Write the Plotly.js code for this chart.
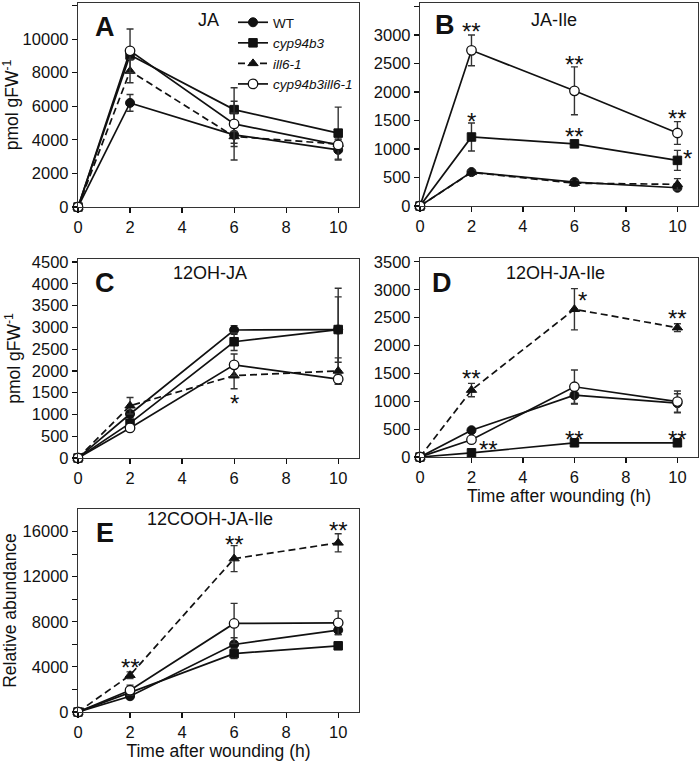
<!DOCTYPE html>
<html>
<head>
<meta charset="utf-8">
<script src="https://cdn.plot.ly/plotly-3.0.1.min.js"></script>
<style>html,body{margin:0;padding:0;background:#fff;}#chart{width:700px;height:762px;}</style>
</head>
<body>
<div id="chart"></div>
<script>
// ---- data ----
const TIME = [0, 2, 6, 10];
const SERIES_NAMES = ['WT', '<i>cyp94b3</i>', '<i>ill6-1</i>', '<i>cyp94b3ill6-1</i>'];
const PANEL_TITLES = ['JA', 'JA-Ile', '12OH-JA', '12OH-JA-Ile', '12COOH-JA-Ile'];
const PANEL_LETTERS = ['A', 'B', 'C', 'D', 'E'];
const X_TICKS = [0, 2, 4, 6, 8, 10];

// A: JA
const JA_WT = [0, 6200, 4300, 3400];       const JA_WT_ERR = [0, 500, 500, 600];
const JA_CYP = [0, 9050, 5800, 4400];      const JA_CYP_ERR = [0, 300, 1300, 1550];
const JA_ILL = [0, 8100, 4200, 3750];      const JA_ILL_ERR = [0, 700, 1400, 300];
const JA_DBL = [0, 9300, 4950, 3700];      const JA_DBL_ERR = [0, 1300, 1350, 200];
// B: JA-Ile
const JAILE_WT = [0, 595, 420, 320];       const JAILE_WT_ERR = [0, 40, 40, 30];
const JAILE_CYP = [0, 1210, 1090, 800];    const JAILE_CYP_ERR = [0, 245, 30, 175];
const JAILE_ILL = [0, 590, 400, 380];      const JAILE_ILL_ERR = [0, 40, 50, 100];
const JAILE_DBL = [0, 2730, 2020, 1280];   const JAILE_DBL_ERR = [0, 270, 420, 200];
// C: 12OH-JA
const OHJA_WT = [0, 1010, 2940, 2950];     const OHJA_WT_ERR = [0, 80, 100, 950];
const OHJA_CYP = [0, 800, 2670, 2950];     const OHJA_CYP_ERR = [0, 60, 200, 750];
const OHJA_ILL = [0, 1200, 1890, 2000];    const OHJA_ILL_ERR = [0, 190, 300, 300];
const OHJA_DBL = [0, 690, 2140, 1810];     const OHJA_DBL_ERR = [0, 60, 250, 120];
// D: 12OH-JA-Ile
const OHJAILE_WT = [0, 480, 1110, 965];    const OHJAILE_WT_ERR = [0, 30, 160, 170];
const OHJAILE_CYP = [0, 75, 255, 255];     const OHJAILE_CYP_ERR = [0, 10, 20, 20];
const OHJAILE_ILL = [0, 1200, 2650, 2320]; const OHJAILE_ILL_ERR = [0, 120, 370, 70];
const OHJAILE_DBL = [0, 310, 1260, 995];   const OHJAILE_DBL_ERR = [0, 30, 300, 190];
// E: 12COOH-JA-Ile (relative abundance)
const COOH_WT = [0, 1400, 5990, 7260];     const COOH_WT_ERR = [0, 200, 600, 400];
const COOH_CYP = [0, 1750, 5180, 5870];    const COOH_CYP_ERR = [0, 150, 450, 150];
const COOH_ILL = [0, 3260, 13600, 15000];  const COOH_ILL_ERR = [0, 300, 1150, 800];
const COOH_DBL = [0, 1930, 7850, 7910];    const COOH_DBL_ERR = [0, 450, 1780, 1050];

// significance labels: [panel index, x, y, text]
const SIG_PANEL = [1, 1, 1, 1, 1, 1, 2, 3, 3, 3, 3, 3, 3, 4, 4, 4];
const SIG_X =     [2, 6, 10, 2, 6, 10.4, 6, 2, 6.3, 10, 2.65, 6, 10, 2, 6, 10];
const SIG_Y =     [3170, 2590, 1645, 1590, 1330, 930, 1380, 1510, 2910, 2590, 250, 430, 430, 4450, 15350, 16620];
const SIG_TEXT =  ['**', '**', '**', '*', '**', '*', '*', '**', '*', '**', '**', '**', '**', '**', '**', '**'];

const PANELS = [
  [[JA_WT, JA_WT_ERR], [JA_CYP, JA_CYP_ERR], [JA_ILL, JA_ILL_ERR], [JA_DBL, JA_DBL_ERR]],
  [[JAILE_WT, JAILE_WT_ERR], [JAILE_CYP, JAILE_CYP_ERR], [JAILE_ILL, JAILE_ILL_ERR], [JAILE_DBL, JAILE_DBL_ERR]],
  [[OHJA_WT, OHJA_WT_ERR], [OHJA_CYP, OHJA_CYP_ERR], [OHJA_ILL, OHJA_ILL_ERR], [OHJA_DBL, OHJA_DBL_ERR]],
  [[OHJAILE_WT, OHJAILE_WT_ERR], [OHJAILE_CYP, OHJAILE_CYP_ERR], [OHJAILE_ILL, OHJAILE_ILL_ERR], [OHJAILE_DBL, OHJAILE_DBL_ERR]],
  [[COOH_WT, COOH_WT_ERR], [COOH_CYP, COOH_CYP_ERR], [COOH_ILL, COOH_ILL_ERR], [COOH_DBL, COOH_DBL_ERR]]
];

// ---- layout geometry (pixels) ----
const W = 700, H = 762;
const BOX = [ // left, right, top, bottom
  [78, 359, 3, 207],
  [420, 698, 3, 206],
  [78, 359, 259, 458],
  [420, 698, 258, 457],
  [78, 359, 509, 712]
];
const YRANGE = [[0, 12150], [0, 3560], [0, 4570], [0, 3570], [0, 18000]];
const FONT = '"Liberation Sans", Arial, Helvetica, sans-serif';

const STYLES = [
  {symbol: 'circle', size: 9, color: '#111', line: {color: '#111', width: 1}, dash: 'solid'},
  {symbol: 'square', size: 8.5, color: '#111', line: {color: '#111', width: 1}, dash: 'solid'},
  {symbol: 'triangle-up', size: 9, color: '#111', line: {color: '#111', width: 1}, dash: '7px,4px'},
  {symbol: 'circle', size: 9.5, color: '#fff', line: {color: '#111', width: 1.3}, dash: 'solid'}
];

const traces = [];
PANELS.forEach((panel, p) => {
  const ax = p === 0 ? '' : String(p + 1);
  panel.forEach((s, i) => {
    const st = STYLES[i];
    traces.push({
      type: 'scatter', mode: 'lines+markers',
      x: TIME, y: s[0],
      xaxis: 'x' + ax, yaxis: 'y' + ax,
      name: SERIES_NAMES[i], legendgroup: 'g' + i, showlegend: p === 0,
      cliponaxis: false,
      line: {color: '#111', width: 1.7, dash: st.dash},
      marker: {symbol: st.symbol, size: st.size, color: st.color, line: st.line},
      error_y: {type: 'data', array: s[1], visible: true, color: '#333', thickness: 1.4, width: 3.5}
    });
  });
});

const layout = {
  width: W, height: H,
  margin: {l: 0, r: 0, t: 0, b: 0},
  paper_bgcolor: '#fff', plot_bgcolor: '#fff',
  font: {family: FONT, size: 16, color: '#111'},
  showlegend: true,
  legend: {
    x: 233 / W, y: 1 - 7 / H, xanchor: 'left', yanchor: 'top',
    bgcolor: 'rgba(0,0,0,0)', font: {family: FONT, size: 13.5, color: '#111'},
    itemwidth: 30, tracegroupgap: 0, traceorder: 'normal'
  },
  annotations: [],
  shapes: []
};

BOX.forEach((b, p) => {
  const ax = p === 0 ? '' : String(p + 1);
  const xa = {
    domain: [b[0] / W, b[1] / W], range: [0, 10.8],
    anchor: 'y' + ax, tickvals: X_TICKS, ticks: 'outside', ticklen: 5, tickwidth: 1.2,
    tickcolor: '#111', showline: true, mirror: true, linecolor: '#333', linewidth: 1.2,
    showgrid: false, zeroline: false, tickfont: {size: 16.5}
  };
  const ya = {
    domain: [1 - b[3] / H, 1 - b[2] / H], range: YRANGE[p],
    anchor: 'x' + ax, ticks: 'outside', ticklen: 5, tickwidth: 1.2, tickcolor: '#111',
    showline: true, mirror: true, linecolor: '#333', linewidth: 1.2,
    showgrid: false, zeroline: false, tickfont: {size: 16.5}, tickformat: 'd'
  };
  if (p === 0) ya.dtick = 2000;
  if (p === 1 || p === 3) ya.dtick = 500;
  if (p === 2) ya.dtick = 500;
  if (p === 4) {
    ya.tickvals = [0, 4000, 8000, 12000, 16000];
    ya.minor = {tickvals: [2000, 6000, 10000, 14000], ticks: 'outside', ticklen: 5, tickcolor: '#111', tickwidth: 1.2};
  }
  if (p === 0 || p === 2) ya.title = {text: 'pmol gFW<sup>-1</sup>', font: {size: 17.5}, standoff: 6};
  if (p === 4) ya.title = {text: 'Relative abundance', font: {size: 17.5}, standoff: 6};
  if (p === 3 || p === 4) xa.title = {text: 'Time after wounding (h)', font: {size: 17.5}, standoff: 4};
  layout['xaxis' + ax] = xa;
  layout['yaxis' + ax] = ya;
});

// panel letters and titles
const LETTER_POS = [[105, 27], [445, 25], [105, 283], [442, 283], [105, 533]];
const TITLE_POS = [[208, 20], [554, 20], [210, 273], [555, 273], [210, 519]];
PANEL_LETTERS.forEach((L, p) => {
  layout.annotations.push({
    xref: 'paper', yref: 'paper', x: LETTER_POS[p][0] / W, y: 1 - LETTER_POS[p][1] / H,
    text: '<b>' + L + '</b>', showarrow: false, xanchor: 'center', yanchor: 'middle',
    font: {family: FONT, size: 27, color: '#111'}
  });
  layout.annotations.push({
    xref: 'paper', yref: 'paper', x: TITLE_POS[p][0] / W, y: 1 - TITLE_POS[p][1] / H,
    text: PANEL_TITLES[p], showarrow: false, xanchor: 'center', yanchor: 'middle',
    font: {family: FONT, size: 18, color: '#111'}
  });
});

// significance asterisks
SIG_TEXT.forEach((t, k) => {
  const p = SIG_PANEL[k];
  const ax = p === 0 ? '' : String(p + 1);
  layout.annotations.push({
    xref: 'x' + ax, yref: 'y' + ax, x: SIG_X[k], y: SIG_Y[k],
    text: t, showarrow: false, xanchor: 'center', yanchor: 'middle', yshift: -6,
    font: {family: FONT, size: 24, color: '#111'}
  });
});

Plotly.newPlot('chart', traces, layout, {staticPlot: true, displayModeBar: false});
</script>
</body>
</html>
